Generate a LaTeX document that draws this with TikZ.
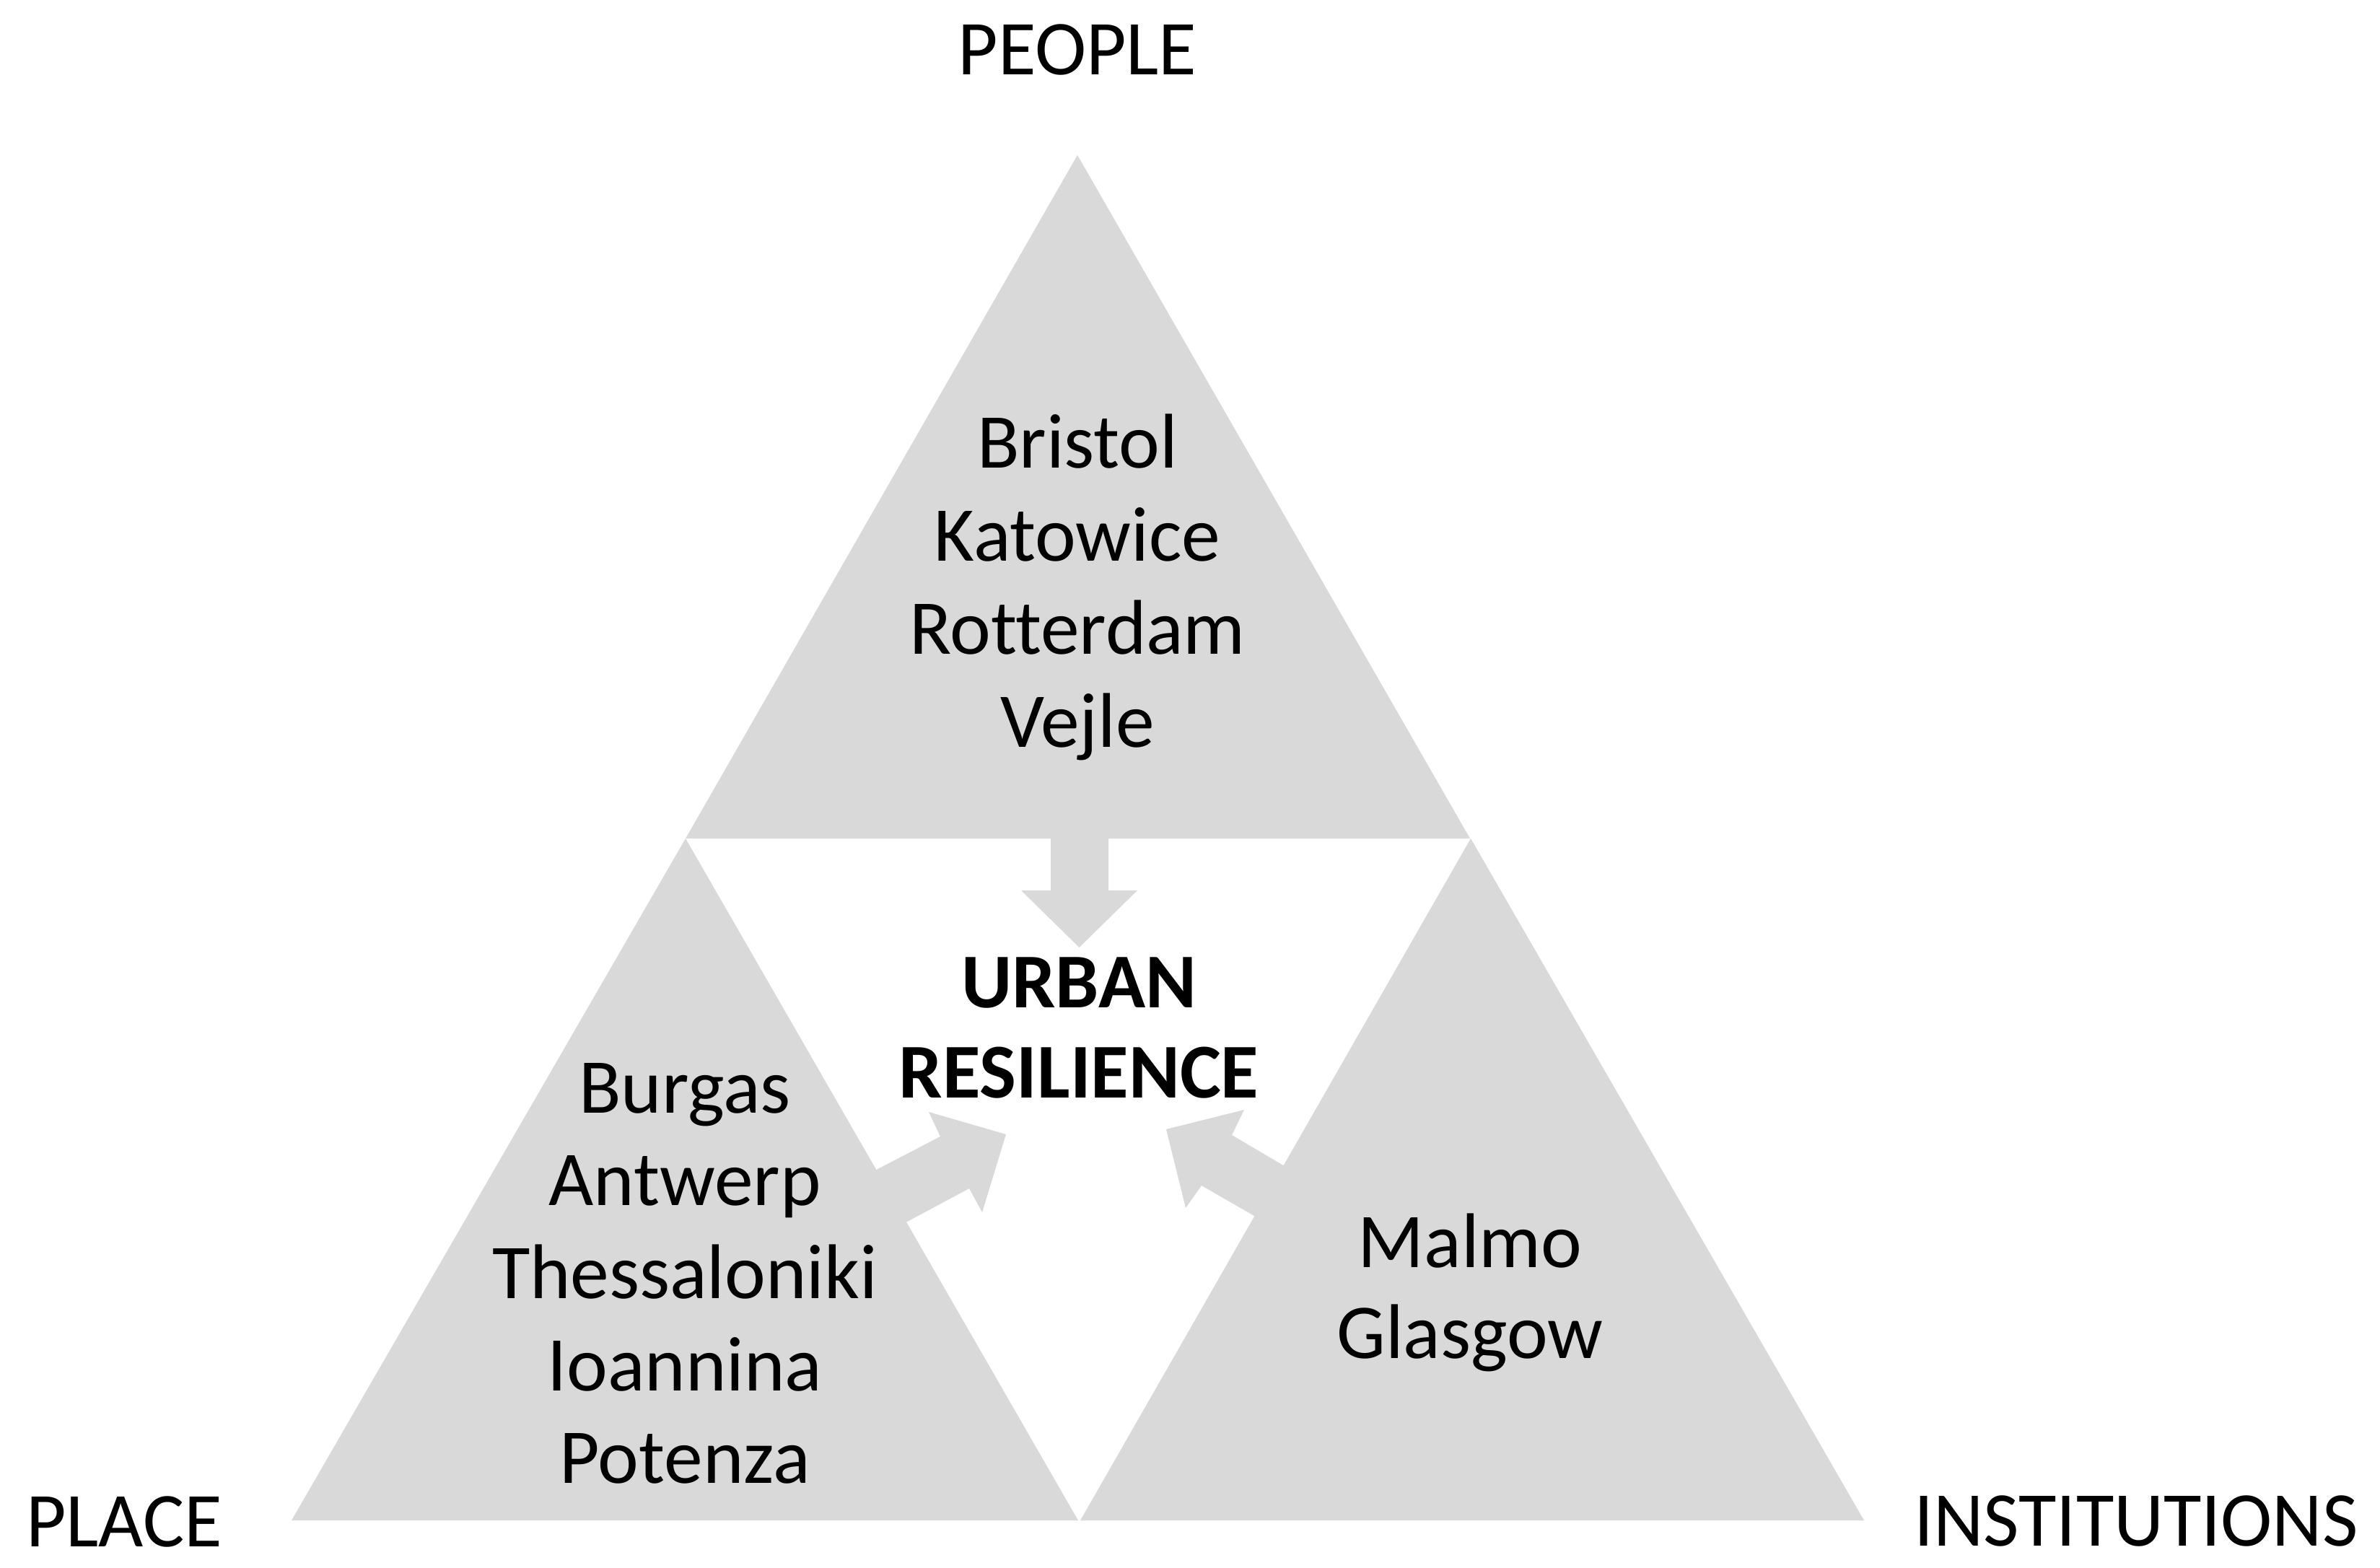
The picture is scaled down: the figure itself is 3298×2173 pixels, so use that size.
\documentclass[tikz,border=0pt]{standalone}
\usepackage{fontspec}
\setmainfont{Carlito}[Ligatures=NoCommon]
\definecolor{tri}{HTML}{D9D9D9}
\begin{document}
\begin{tikzpicture}[x=1pt,y=-1pt,
  shape fill/.style={fill=tri,draw=none},
  lbl/.style={anchor=base,inner sep=0pt,text=black,font=\fontsize{107.5pt}{129pt}\selectfont},
  lblb/.style={lbl,font=\fontsize{107.5pt}{129pt}\selectfont\bfseries}]
\useasboundingbox[fill=white] (0,0) rectangle (3298,2173);
% triangles
\fill[shape fill] (950,1162) -- (1493,215) -- (2037,1162) -- cycle;
\fill[shape fill] (404,2107) -- (950,1162) -- (1494,2107) -- cycle;
\fill[shape fill] (1497,2107) -- (2038,1162) -- (2583,2107) -- cycle;
% block arrows
\fill[shape fill] (1456,1150) -- (1456,1234) -- (1415,1234) -- (1495.5,1313) -- (1576,1234) -- (1536,1234) -- (1536,1150) -- cycle;
\fill[shape fill] (1202,1627.5) -- (1303,1575) -- (1287,1541) -- (1394,1572) -- (1361,1680) -- (1343,1647) -- (1245,1699.5) -- cycle;
\fill[shape fill] (1791,1622.5) -- (1707,1573) -- (1724,1538) -- (1616,1565) -- (1643,1674) -- (1665,1643) -- (1751,1692.5) -- cycle;
% corner labels
\node[lbl] (people) at (1493,104) {PEOPLE};
\node[lbl] (place) at (172,2143) {PLACE};
\node[lbl] (inst) at (2960,2142) {INSTITUTIONS};
% top block
\node[lbl] (t1) at (1493,648) {Bristol};
\node[lbl] (t2) at (1493,777) {Katowice};
\node[lbl] (t3) at (1493,906) {Rotterdam};
\node[lbl] (t4) at (1493,1035) {Vejle};
% centre
\node[lblb] (c1) at (1495,1396) {URBAN};
\node[lblb] (c2) at (1495,1521) {RESILIENCE};
% left block
\node[lbl] (l1) at (949,1542) {Burgas};
\node[lbl] (l2) at (949,1670) {Antwerp};
\node[lbl] (l3) at (949,1799) {Thessaloniki};
\node[lbl] (l4) at (949,1927) {Ioannina};
\node[lbl] (l5) at (949,2055) {Potenza};
% right block
\node[lbl] (r1) at (2037,1756) {Malmo};
\node[lbl] (r2) at (2037,1882) {Glasgow};
\end{tikzpicture}
\end{document}
